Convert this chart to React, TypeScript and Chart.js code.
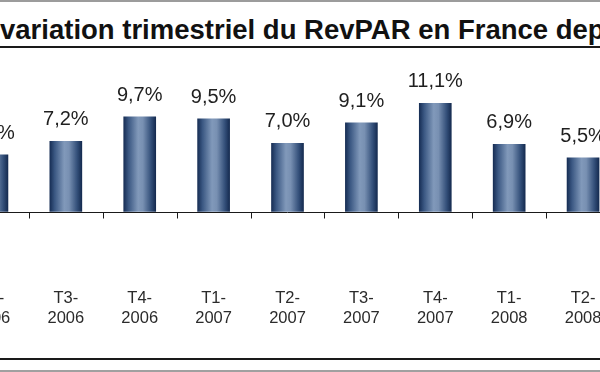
import React, { useEffect, useRef } from 'react';
import { Chart, registerables } from 'chart.js';

Chart.register(...registerables);

const titleText = 'variation trimestriel du RevPAR en France dep';
const quarters: string[] = ['T2-', 'T3-', 'T4-', 'T1-', 'T2-', 'T3-', 'T4-', 'T1-', 'T2-'];
const years: string[] = ['2006', '2006', '2006', '2007', '2007', '2007', '2007', '2008', '2008'];
const revparVariation: number[] = [5.8, 7.2, 9.7, 9.5, 7.0, 9.1, 11.1, 6.9, 5.5];
const yMin = -7;
const yMax = 12;

const FONT = '"Liberation Sans", Arial, sans-serif';
const BAR_W = 32;

const fmt = (v: number) => v.toFixed(1).replace('.', ',') + '%';

const overlayPlugin = {
  id: 'overlay',
  afterDatasetsDraw(chart: any) {
    const { ctx, chartArea, scales } = chart;
    const xs = scales.x;
    const ys = scales.y;
    const y0 = Math.round(ys.getPixelForValue(0)) + 0.5;
    ctx.save();
    ctx.strokeStyle = '#1a1a1a';
    ctx.lineWidth = 1;
    ctx.beginPath();
    ctx.moveTo(chartArea.left, y0);
    ctx.lineTo(chartArea.right, y0);
    const n = chart.data.labels.length;
    for (let i = 0; i <= n; i++) {
      const bx = Math.round(xs.getPixelForValue(i - 0.5)) + 0.5;
      ctx.moveTo(bx, y0);
      ctx.lineTo(bx, y0 + 6);
    }
    ctx.stroke();

    const meta = chart.getDatasetMeta(0);
    ctx.fillStyle = '#1f1f1f';
    ctx.font = `20px ${FONT}`;
    ctx.textAlign = 'center';
    ctx.textBaseline = 'alphabetic';
    meta.data.forEach((el: any, i: number) => {
      const v = chart.data.datasets[0].data[i];
      ctx.fillText(fmt(v), el.x, el.y - 16);
    });
    ctx.restore();
  },
};

export default function App() {
  const canvasRef = useRef<HTMLCanvasElement | null>(null);

  useEffect(() => {
    if (!canvasRef.current) return;
    const labels = quarters.map((q, i) => [q, years[i]]);
    const chart = new Chart(canvasRef.current, {
      type: 'bar',
      data: {
        labels,
        datasets: [
          {
            data: revparVariation,
            barThickness: BAR_W,
            borderWidth: 0,
            backgroundColor: (c: any) => {
              const ch = c.chart;
              const xs = ch.scales && ch.scales.x;
              if (!xs || c.dataIndex == null) return '#4a6690';
              const cx = xs.getPixelForValue(c.dataIndex);
              if (!Number.isFinite(cx)) return '#4a6690';
              const g = ch.ctx.createLinearGradient(cx - BAR_W / 2, 0, cx + BAR_W / 2, 0);
              g.addColorStop(0, '#172e55');
              g.addColorStop(0.15, '#3a5782');
              g.addColorStop(0.45, '#8199ba');
              g.addColorStop(0.6, '#7890b2');
              g.addColorStop(0.85, '#34507a');
              g.addColorStop(1, '#152b50');
              return g;
            },
          },
        ],
      },
      options: {
        animation: false,
        responsive: true,
        maintainAspectRatio: false,
        layout: { padding: { top: 39.5, bottom: 5, left: 0, right: 0 } },
        plugins: {
          legend: { display: false },
          tooltip: { enabled: false },
          title: { display: false },
        },
        scales: {
          x: {
            grid: { display: false, drawTicks: false },
            border: { display: false },
            ticks: {
              color: '#2b2b2b',
              padding: 8,
              maxRotation: 0,
              autoSkip: false,
              font: { family: FONT, size: 16.5, lineHeight: 1.25 },
            },
          },
          y: {
            display: false,
            min: yMin,
            max: yMax,
          },
        },
      },
      plugins: [overlayPlugin],
    });
    return () => chart.destroy();
  }, []);

  return (
    <div
      style={{
        position: 'absolute',
        left: 0,
        top: 0,
        width: 600,
        height: 372,
        overflow: 'hidden',
        background: '#ffffff',
      }}
    >
      <div style={{ position: 'absolute', left: 0, top: 0, width: 600, height: 2, background: '#9c9c9c' }} />
      <div
        style={{
          position: 'absolute',
          left: 0,
          top: 14,
          font: `bold 27.5px ${FONT}`,
          lineHeight: '32px',
          whiteSpace: 'nowrap',
          color: '#111111',
        }}
      >
        {titleText}
      </div>
      <div style={{ position: 'absolute', left: 0, top: 46, width: 600, height: 2, background: '#1a1a1a' }} />
      <div style={{ position: 'absolute', left: -45, top: 55, width: 665, height: 287 }}>
        <canvas ref={canvasRef} />
      </div>
      <div style={{ position: 'absolute', left: 0, top: 358, width: 600, height: 2, background: '#1a1a1a' }} />
      <div style={{ position: 'absolute', left: 0, top: 370, width: 600, height: 2, background: '#a0a0a0' }} />
    </div>
  );
}
